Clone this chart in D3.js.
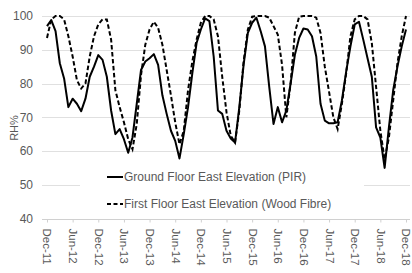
<!DOCTYPE html>
<html><head><meta charset="utf-8">
<script src="https://cdn.jsdelivr.net/npm/d3@7"></script>
<style>
html,body{margin:0;padding:0;background:#fff;}
svg{display:block;font-family:"Liberation Sans",Arial,sans-serif;}
</style></head>
<body><svg id="chart" width="412" height="273"></svg>
<script>
// month index 0 = Dec-11 ... 84 = Dec-18
const tickLabels = ["Dec-11","Jun-12","Dec-12","Jun-13","Dec-13","Jun-14","Dec-14","Jun-15","Dec-15","Jun-16","Dec-16","Jun-17","Dec-17","Jun-18","Dec-18"];
const yTicks = [40,50,60,70,80,90,100];
const groundPIR = [97,98.8,95.5,86,81.5,73,75.5,74,71.8,75.5,
  82,85,88.4,87,82,72,65,66.5,63.5,59.5,
  64,74,84,86.5,87.5,88.7,85.5,76.5,71,66,
  63,57.8,65,73,83,92,96,99.3,98.5,88,
  72,71,66,63.7,62.5,73,85.5,95,98,99.5,
  95.5,91,79,68,73,68.5,72,80,88.5,93.5,
  96.3,96,94,88,74,69,68.2,68.2,68.5,75,
  83.5,91,97.5,98.3,93,87.5,82,67,64,55,
  67,78,85,91,96];
const firstWood = [93.5,99,100,100,99,94,88,81,78.5,80,
  88,94,97.5,99,99,93,78,73,68.5,63.5,
  60.5,68,82.5,91.5,96,98.3,96.5,91.5,84,76.5,
  68.5,62,66,78,86.5,93,98,100,100,99,
  94,82,71.5,64.5,62.5,72,86.5,96,99.8,100,
  100,100,99.5,97,94.5,85.5,70,80,95,99.8,
  100,100,100,99.5,95,85,77.5,70,66.5,74,
  83,94,99,100,100,99,92,79,66,57.5,
  64,75,86,94,100];
const seriesNames = ["Ground Floor East Elevation (PIR)","First Floor East Elevation (Wood Fibre)"];

const svg = d3.select("#chart");
const x = d3.scaleLinear().domain([0,84]).range([47,406]);
const y = d3.scaleLinear().domain([40,100]).range([218.5,16]);
const gridX0 = 42, gridX1 = 410;
const txt = "#595959";

// gridlines
svg.append("g").selectAll("line").data(yTicks).join("line")
  .attr("x1",gridX0).attr("x2",gridX1)
  .attr("y1",d=>Math.round(y(d))+0.5).attr("y2",d=>Math.round(y(d))+0.5)
  .attr("stroke",d=>d===40?"#d0d0d0":"#e0e0e0").attr("stroke-width",1);

// y axis labels
const yAxis = d3.axisLeft(y).tickValues(yTicks).tickSize(0).tickPadding(0);
const gy = svg.append("g").attr("transform","translate(33,0)").call(yAxis);
gy.select(".domain").remove();
gy.selectAll("text").attr("fill",txt).style("font-size","12px").style("font-family","'Liberation Sans',Arial,sans-serif");

// x axis
const xAxis = d3.axisBottom(x).tickValues(d3.range(0,85,6)).tickFormat((d,i)=>tickLabels[i]).tickSize(3).tickPadding(0);
const gx = svg.append("g").attr("transform",`translate(0,${Math.round(y(40))+0.5})`).call(xAxis);
gx.select(".domain").remove();
gx.selectAll(".tick line").attr("stroke","#d0d0d0");
gx.selectAll("text").attr("fill",txt).style("font-size","11.5px").style("font-family","'Liberation Sans',Arial,sans-serif")
  .attr("transform","rotate(90)").attr("text-anchor","start").attr("x",9).attr("y",0).attr("dy","0.35em");

// RH% label
svg.append("text").attr("transform","translate(14,128) rotate(-90)")
  .attr("text-anchor","middle").attr("dy","0.35em").attr("fill",txt).style("font-size","11px").text("RH%");

// lines
const line = d3.line().x((d,i)=>x(i)).y(d=>y(d));
svg.append("path").datum(firstWood).attr("d",line).attr("fill","none")
  .attr("stroke","#000").attr("stroke-width",2).attr("stroke-dasharray","4.5,2.5");
svg.append("path").datum(groundPIR).attr("d",line).attr("fill","none")
  .attr("stroke","#000").attr("stroke-width",2).attr("stroke-linejoin","round");

// legend
const lg = svg.append("g");
lg.append("rect").attr("x",80).attr("y",162).attr("width",284).attr("height",54).attr("fill","#fff");
const rows = [{y:177,dash:null},{y:204,dash:"4,2.5"}];
rows.forEach((r,i)=>{
  lg.append("line").attr("x1",107).attr("x2",123).attr("y1",r.y).attr("y2",r.y)
    .attr("stroke","#000").attr("stroke-width",2).attr("stroke-dasharray",r.dash);
  lg.append("text").attr("x",124).attr("y",r.y).attr("dy","0.35em").attr("fill",txt)
    .style("font-size","12px").text(seriesNames[i]);
});
</script></body></html>
